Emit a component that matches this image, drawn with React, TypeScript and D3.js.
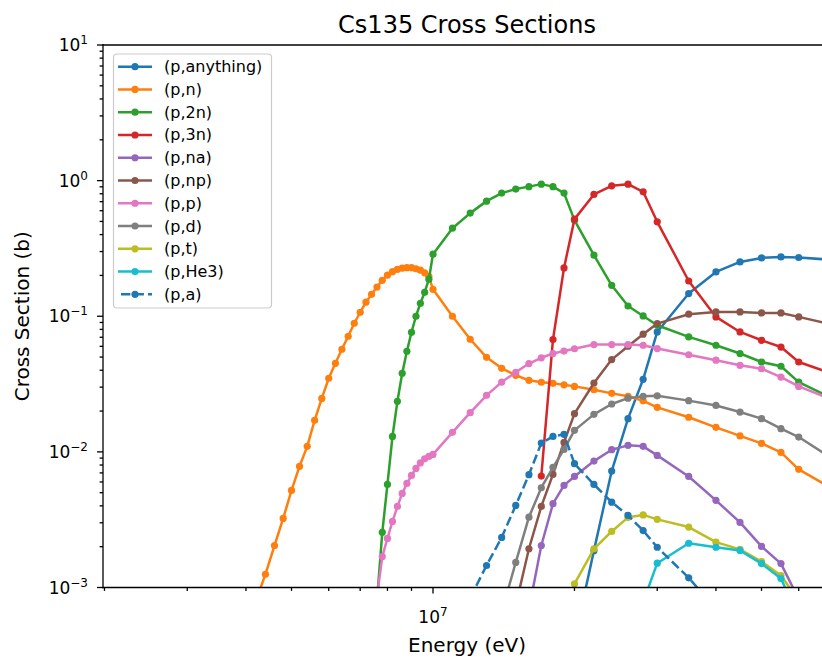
import React from "react";
import * as d3 from "d3";

// Energies in MeV, cross sections in barns
const eAny = [20, 22, 24, 26, 28, 30, 35, 40, 45, 50, 55, 60, 70];
const xsAny = [4.1e-4, 1.87e-3, 7.22e-3, 1.758e-2, 3.43e-2, 7.66e-2, 0.147, 0.2123, 0.2516, 0.2693, 0.274, 0.2712, 0.2612];

const eN = [4.2, 4.4, 4.6, 4.8, 5.0, 5.2, 5.4, 5.6, 5.8, 6.0, 6.2, 6.4, 6.6, 6.8, 7.0, 7.2, 7.4, 7.6, 7.8, 8.0, 8.2, 8.4, 8.6, 8.8, 9.0, 9.2, 9.4, 9.6, 9.8, 10, 11, 12, 13, 14, 15, 16, 17, 18, 19, 20, 22, 24, 26, 28, 30, 35, 40, 45, 50, 55, 60, 70];
const xsN = [8.0e-4, 1.25e-3, 2.04e-3, 3.23e-3, 5.2e-3, 7.82e-3, 1.098e-2, 1.708e-2, 2.48e-2, 3.49e-2, 4.5e-2, 5.71e-2, 7.12e-2, 8.88e-2, 0.107, 0.127, 0.145, 0.164, 0.184, 0.201, 0.213, 0.222, 0.226, 0.228, 0.228, 0.224, 0.2185, 0.209, 0.197, 0.158, 0.1, 0.0677, 0.0498, 0.0413, 0.0367, 0.0337, 0.0326, 0.032, 0.0312, 0.0304, 0.0287, 0.027, 0.0257, 0.0238, 0.0213, 0.018, 0.01517, 0.01312, 0.01155, 0.00991, 0.00743, 0.00547];

const eTwoN = [7.6, 7.8, 8.0, 8.2, 8.4, 8.6, 8.8, 9.0, 9.2, 9.4, 9.6, 9.8, 10, 11, 12, 13, 14, 15, 16, 17, 18, 19, 20, 22, 24, 26, 28, 30, 35, 40, 45, 50, 55, 60, 70];
const xsTwoN = [8e-4, 2.55e-3, 5.75e-3, 1.3e-2, 2.36e-2, 3.8e-2, 5.52e-2, 7.62e-2, 0.1, 0.1247, 0.15, 0.1875, 0.287, 0.446, 0.576, 0.706, 0.809, 0.866, 0.903, 0.942, 0.903, 0.809, 0.511, 0.282, 0.169, 0.119, 0.1005, 0.0858, 0.0704, 0.0611, 0.0531, 0.046, 0.0428, 0.0327, 0.0252];

const eThreeN = [17, 18, 19, 20, 22, 24, 26, 28, 30, 35, 40, 45, 50, 55, 60, 70];
const xsThreeN = [6.63e-3, 0.0673, 0.227, 0.52, 0.791, 0.915, 0.942, 0.827, 0.497, 0.182, 0.0989, 0.0766, 0.0665, 0.0593, 0.046, 0.0381];

const eNA = [16, 17, 18, 19, 20, 22, 24, 26, 28, 30, 35, 40, 45, 50, 55, 60];
const xsNA = [6.9e-4, 2.04e-3, 4.15e-3, 5.66e-3, 6.59e-3, 8.55e-3, 1.038e-2, 1.117e-2, 1.098e-2, 9.42e-3, 6.59e-3, 4.39e-3, 3.02e-3, 2.01e-3, 1.5e-3, 8.2e-4];

const eNP = [15, 16, 17, 18, 19, 20, 22, 24, 26, 28, 30, 35, 40, 45, 50, 55, 60, 70];
const xsNP = [7.4e-4, 1.93e-3, 3.96e-3, 6.82e-3, 1.175e-2, 1.914e-2, 3.22e-2, 4.79e-2, 6.01e-2, 7.37e-2, 8.83e-2, 0.1035, 0.1076, 0.1076, 0.1058, 0.1058, 0.0989, 0.0873];

const eP = [7.6, 7.8, 8.0, 8.2, 8.4, 8.6, 8.8, 9.0, 9.2, 9.4, 9.6, 9.8, 10, 11, 12, 13, 14, 15, 16, 17, 18, 19, 20, 22, 24, 26, 28, 30, 35, 40, 45, 50, 55, 60, 70];
const xsP = [8.5e-4, 1.69e-3, 2.3e-3, 3.07e-3, 3.96e-3, 4.94e-3, 5.85e-3, 6.71e-3, 7.55e-3, 8.29e-3, 8.88e-3, 9.26e-3, 9.58e-3, 1.393e-2, 1.947e-2, 2.61e-2, 3.27e-2, 3.86e-2, 4.48e-2, 4.94e-2, 5.31e-2, 5.54e-2, 5.76e-2, 6.18e-2, 6.18e-2, 6.18e-2, 6.11e-2, 5.78e-2, 5.2e-2, 4.74e-2, 4.35e-2, 4.1e-2, 3.56e-2, 3.04e-2, 2.46e-2];

const eD = [14, 15, 16, 17, 18, 19, 20, 22, 24, 26, 28, 30, 35, 40, 45, 50, 55, 60, 70];
const xsD = [6.6e-4, 1.53e-3, 3.3e-3, 5.44e-3, 7.69e-3, 1.043e-2, 1.441e-2, 1.891e-2, 2.254e-2, 2.49e-2, 2.57e-2, 2.59e-2, 2.387e-2, 2.2e-2, 1.966e-2, 1.758e-2, 1.483e-2, 1.286e-2, 9.11e-3];

const eT = [19, 20, 22, 24, 26, 28, 30, 35, 40, 45, 50, 55, 60];
const xsT = [5e-4, 1.065e-3, 1.93e-3, 2.59e-3, 3.29e-3, 3.43e-3, 3.18e-3, 2.79e-3, 2.16e-3, 1.91e-3, 1.555e-3, 1.226e-3, 8.0e-4];

const eHe3 = [28, 30, 35, 40, 45, 50, 55, 60];
const xsHe3 = [7.8e-4, 1.511e-3, 2.12e-3, 1.98e-3, 1.875e-3, 1.5e-3, 1.165e-3, 6e-4];

const eA = [12, 13, 14, 15, 16, 17, 18, 19, 20, 22, 24, 26, 28, 30, 35, 40];
const xsA = [8.4e-4, 1.453e-3, 2.34e-3, 4.03e-3, 6.79e-3, 1.161e-2, 1.301e-2, 1.346e-2, 8.18e-3, 5.75e-3, 4.26e-3, 3.4e-3, 2.63e-3, 1.98e-3, 1.179e-3, 6.9e-4];

const labels = ["(p,anything)", "(p,n)", "(p,2n)", "(p,3n)", "(p,na)", "(p,np)", "(p,p)", "(p,d)", "(p,t)", "(p,He3)", "(p,a)"];
const colors = ["#1f77b4", "#ff7f0e", "#2ca02c", "#d62728", "#9467bd", "#8c564b", "#e377c2", "#7f7f7f", "#bcbd22", "#17becf", "#1f77b4"];
const energies = [eAny, eN, eTwoN, eThreeN, eNA, eNP, eP, eD, eT, eHe3, eA];
const sections = [xsAny, xsN, xsTwoN, xsThreeN, xsNA, xsNP, xsP, xsD, xsT, xsHe3, xsA];
const dashedIndex = 10;

const yMajors = [1e-3, 1e-2, 1e-1, 1e0, 1e1];
const xMajors = [1e7];

const W = 822;
const H = 658;
const M = { left: 103, top: 45, right: 831, bottom: 587.5 };
const FONT = "DejaVu Sans, sans-serif";
const R = 3.6;

export default function App() {
  const x = d3.scaleLog().domain([1.9855e6, 7.028e7]).range([M.left, M.right]);
  const y = d3.scaleLog().domain([1e-3, 1e1]).range([M.bottom, M.top]);
  const line = d3
    .line<[number, number]>()
    .x((d) => x(d[0] * 1e6))
    .y((d) => y(d[1]));

  const [x0, x1] = x.domain();
  const xMinor: number[] = [];
  for (let p = 6; p <= 7; p++) {
    for (let k = 2; k <= 9; k++) {
      const v = k * Math.pow(10, p);
      if (v >= x0 && v <= x1) xMinor.push(v);
    }
  }
  const yMinor: number[] = [];
  for (let p = -3; p < 1; p++) {
    for (let k = 2; k <= 9; k++) yMinor.push(k * Math.pow(10, p));
  }

  const series = labels.map((label, i) => ({
    label,
    color: colors[i],
    dashed: i === dashedIndex,
    pts: energies[i].map((e, j) => [e, sections[i][j]] as [number, number]),
  }));

  const legX = 113.5;
  const legY = 54;
  const rowH = 22.76;

  return (
    <svg
      width={W}
      height={H}
      style={{ position: "absolute", left: 0, top: 0, background: "#fff" }}
      fontFamily={FONT}
    >
      <defs>
        <clipPath id="plotArea">
          <rect x={M.left} y={M.top} width={M.right - M.left} height={M.bottom - M.top} />
        </clipPath>
      </defs>
      <rect x={0} y={0} width={W} height={H} fill="#fff" />

      <g clipPath="url(#plotArea)">
        {series.map((s) => (
          <g key={s.label}>
            <path
              d={line(s.pts) || ""}
              fill="none"
              stroke={s.color}
              strokeWidth={2.5}
              strokeDasharray={s.dashed ? "9.4 4.1" : undefined}
              strokeLinejoin="round"
            />
            {s.pts.map((p, j) => (
              <circle key={j} cx={x(p[0] * 1e6)} cy={y(p[1])} r={R} fill={s.color} />
            ))}
          </g>
        ))}
      </g>

      {/* spines */}
      <g stroke="#000" strokeWidth={1.3} strokeLinecap="square">
        <line x1={M.left} y1={M.top} x2={M.left} y2={M.bottom} />
        <line x1={M.left} y1={M.bottom} x2={M.right} y2={M.bottom} />
        <line x1={M.left} y1={M.top} x2={M.right} y2={M.top} />
        <line x1={M.right} y1={M.top} x2={M.right} y2={M.bottom} />
      </g>

      {/* ticks */}
      <g stroke="#000" strokeWidth={1.3}>
        {xMajors.map((v) => (
          <line key={v} x1={x(v)} x2={x(v)} y1={M.bottom} y2={M.bottom + 6} />
        ))}
        {xMinor.map((v) => (
          <line key={v} x1={x(v)} x2={x(v)} y1={M.bottom} y2={M.bottom + 3.4} />
        ))}
        {yMajors.map((v) => (
          <line key={v} x1={M.left - 6} x2={M.left} y1={y(v)} y2={y(v)} />
        ))}
        {yMinor.map((v) => (
          <line key={v} x1={M.left - 3.4} x2={M.left} y1={y(v)} y2={y(v)} />
        ))}
      </g>

      {xMajors.map((v) => (
        <text key={v} x={x(v)} y={623} fontSize={17} textAnchor="middle" fill="#000">
          10
          <tspan fontSize={12} dy={-7}>
            {Math.round(Math.log10(v))}
          </tspan>
        </text>
      ))}
      {yMajors.map((v) => {
        const p = Math.round(Math.log10(v));
        return (
          <text key={v} x={88} y={y(v) + 6} fontSize={17} textAnchor="end" fill="#000">
            10
            <tspan fontSize={12} dy={-7}>
              {p < 0 ? "\u2212" + Math.abs(p) : String(p)}
            </tspan>
          </text>
        );
      })}

      <text x={(M.left + M.right) / 2} y={652} fontSize={20} textAnchor="middle" fill="#000">
        Energy (eV)
      </text>
      <text
        transform={`translate(29, ${(M.top + M.bottom) / 2}) rotate(-90)`}
        fontSize={20}
        textAnchor="middle"
        fill="#000"
      >
        Cross Section (b)
      </text>
      <text x={(M.left + M.right) / 2} y={33} fontSize={24} textAnchor="middle" fill="#000">
        Cs135 Cross Sections
      </text>

      {/* legend */}
      <rect
        x={legX}
        y={legY}
        width={158}
        height={254}
        rx={3.5}
        fill="#fff"
        fillOpacity={0.8}
        stroke="#cccccc"
        strokeWidth={1.2}
      />
      {series.map((s, i) => {
        const cy = legY + 12.7 + i * rowH;
        return (
          <g key={s.label}>
            <line
              x1={118}
              x2={152}
              y1={cy}
              y2={cy}
              stroke={s.color}
              strokeWidth={2.5}
              strokeDasharray={s.dashed ? "9.4 4.1" : undefined}
              strokeDashoffset={s.dashed ? -3 : undefined}
            />
            <circle cx={135} cy={cy} r={R} fill={s.color} />
            <text x={164} y={cy + 5.5} fontSize={16} fill="#000">
              {s.label}
            </text>
          </g>
        );
      })}
    </svg>
  );
}
